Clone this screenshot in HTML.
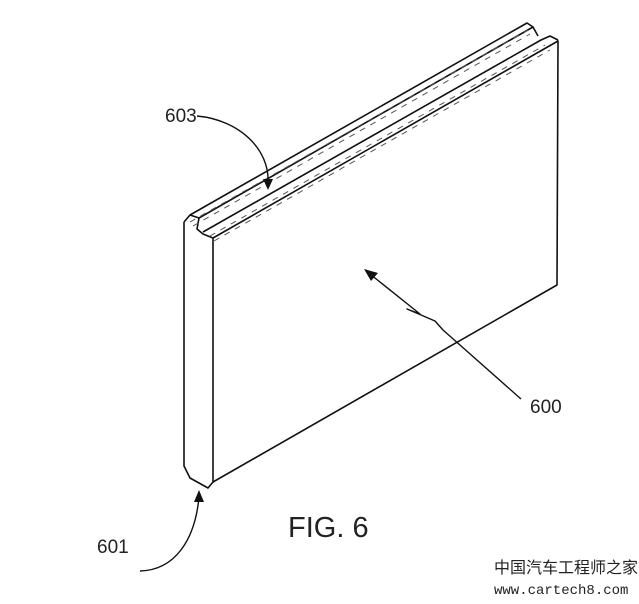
<!DOCTYPE html>
<html><head><style>
html,body{margin:0;padding:0;background:#fff;}
svg{display:block;}
text{font-family:"Liberation Sans",sans-serif;fill:#222;}
</style></head><body>
<svg width="639" height="604" viewBox="0 0 639 604" xmlns="http://www.w3.org/2000/svg">
<g stroke="#111" stroke-width="1.6" fill="none" stroke-linejoin="round">
 <path d="M184,222 L184,466 L190,478 L208,488 L213,482 L213,238"/>
 <path d="M184,222 L190,215 L199,218 L197,229 L203,234 L213,238"/>
 <path d="M190,215 L527,23 L533,27"/>
 <path d="M199,218 L533,27 L538,36"/>
 <path d="M203,232 L541,40 L550,36 L558,40"/>
 <path d="M213,238 L558,41 L557,285 L213,482"/>
</g>
<g stroke="#555" stroke-width="1" stroke-dasharray="6,6" fill="none">
 <path d="M190,222 L528,30"/>
 <path d="M193,226 L530,34"/>
 <path d="M210,236 L545,45"/>
 <path d="M214,241 L550,50"/>
</g>
<g stroke="#111" stroke-width="1.4" fill="none" stroke-linejoin="round">
 <path d="M521,399 L443,330 L435,321 L407,309 L420,314 L370,274"/>
 <path d="M197,116 C240,120 270,150 268,183"/>
 <path d="M140,571 C175,570 195,540 199,497"/>
</g>
<g fill="#111">
 <polygon points="364,269 378,273 371,281"/>
 <polygon points="268,190 263,179 273,179"/>
 <polygon points="199,490 194,502 204,502"/>
</g>
<text x="165" y="122" font-size="19">603</text>
<text x="530" y="413" font-size="19">600</text>
<text x="97" y="553" font-size="19">601</text>
<text x="288" y="537" font-size="29">FIG. 6</text>
<text x="494" y="573" font-size="16" style="font-family:'Liberation Sans','Noto Sans CJK SC',sans-serif">中国汽车工程师之家</text>
<text x="494" y="594" font-size="14" style="font-family:'Liberation Mono',monospace">www.cartech8.com</text>
</svg>
</body></html>
